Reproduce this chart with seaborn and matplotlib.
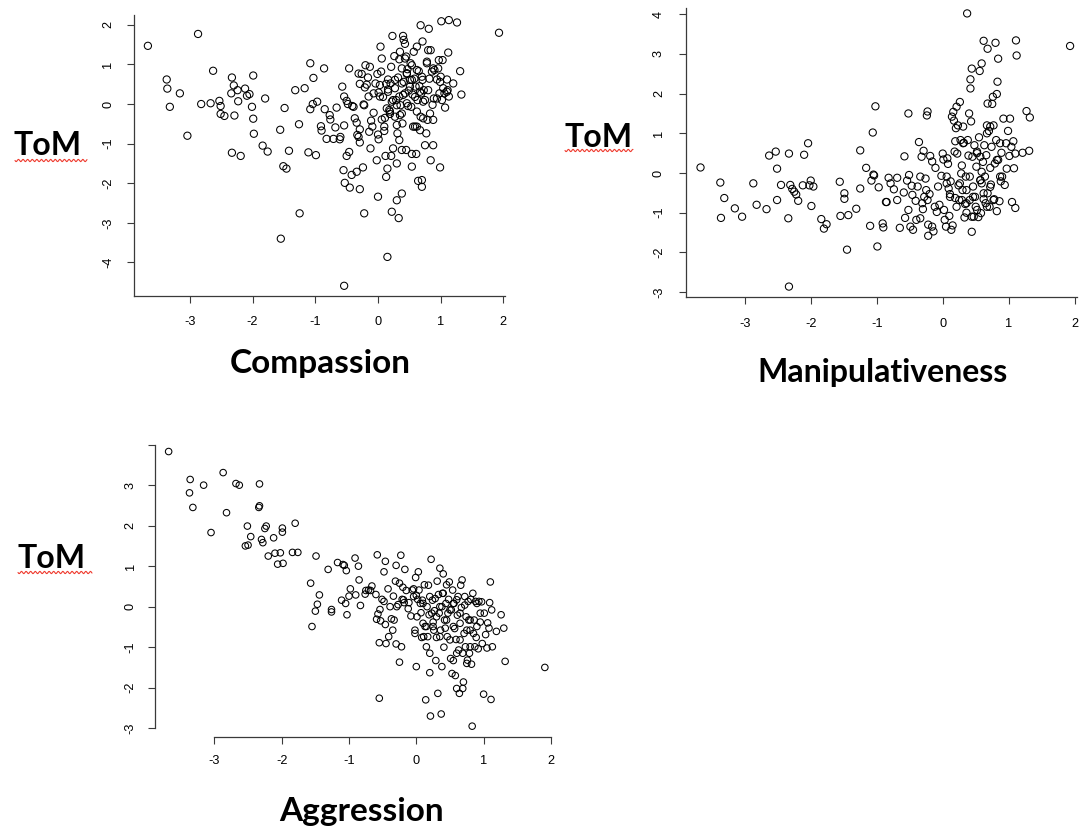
import numpy as np
import matplotlib
matplotlib.use("Agg")
import matplotlib.pyplot as plt
from matplotlib.lines import Line2D
import seaborn as sns

# ---------------------------------------------------------------- data
compassion_x = [
    -3.67, -3.37, -3.36, -3.32, -3.16, -3.04, -2.87, -2.82, -2.67, -2.63,
    -2.53, -2.51, -2.51, -2.45, -2.34, -2.33, -2.30, -2.29, -2.33, -2.24,
    -2.23, -2.19, -2.12, -2.09, -2.05, -2.01, -1.99, -1.99, -1.98, -1.84,
    -1.80, -1.76, -1.56, -1.55, -1.51, -1.49, -1.46, -1.42, -1.32, -1.26,
    -1.25, -1.17, -1.11, -1.08, -1.08, -1.04, -1.03, -0.99, -0.97, -0.86,
    -0.85, -0.91, -0.90, -0.82, -0.77, -0.76, -0.68, -0.66, -0.71, -0.61,
    -0.60, -0.57, -0.54, -0.55, -0.54, -0.53, -0.54, -0.50, -0.50, -0.46,
    -0.46, -0.48, -0.45, -0.41, -0.39, -0.42, -0.37, -0.34, -0.34, -0.33,
    -0.31, -0.31, -0.29, -0.29, -0.29, -0.29, -0.26, -0.24, -0.23, -0.22,
    -0.22, -0.21, -0.20, -0.18, -0.16, -0.15, -0.14, -0.13, -0.12, -0.11,
    -0.09, -0.07, -0.04, -0.02, -0.01, 0.00, 0.01, 0.00, 0.01, 0.03,
    0.04, 0.05, 0.06, 0.06, 0.10, 0.10, 0.11, 0.12, 0.13, 0.13,
    0.14, 0.15, 0.15, 0.16, 0.16, 0.18, 0.19, 0.20, 0.21, 0.21,
    0.22, 0.23, 0.24, 0.24, 0.26, 0.27, 0.27, 0.29, 0.30, 0.30,
    0.31, 0.32, 0.33, 0.34, 0.34, 0.34, 0.35, 0.36, 0.38, 0.38,
    0.38, 0.38, 0.39, 0.40, 0.41, 0.43, 0.41, 0.43, 0.45, 0.45,
    0.46, 0.47, 0.48, 0.49, 0.51, 0.52, 0.53, 0.54, 0.54, 0.55,
    0.56, 0.57, 0.58, 0.60, 0.61, 0.62, 0.62, 0.63, 0.64, 0.65,
    0.66, 0.67, 0.68, 0.68, 0.69, 0.70, 0.70, 0.71, 0.71, 0.73,
    0.75, 0.75, 0.77, 0.78, 0.79, 0.80, 0.81, 0.82, 0.83, 0.84,
    0.84, 0.86, 0.87, 0.88, 0.88, 0.89, 0.90, 0.94, 0.96, 0.97,
    0.98, 0.99, 1.00, 1.01, 1.02, 1.03, 1.04, 1.06, 1.07, 1.10,
    1.11, 1.12, 1.13, 1.13, 1.20, 1.26, 1.31, 1.33, 1.93,
    0.43, 0.54, 0.62, 0.46, 0.70, 0.27, 0.38, 0.51, 0.67, 0.59,
    0.80, 0.16, 0.08, 0.22, 0.46, 0.62, 0.35, 0.72, 0.94, 0.99,
    0.88, 0.78, 0.30, 0.03, -0.07, 1.10, 0.54, 0.40, 0.72, 0.30,
    0.59, 0.19,
]
compassion_tom = [
    1.47, 0.62, 0.39, -0.07, 0.27, -0.80, 1.77, 0.00, 0.02, 0.84,
    0.08, -0.05, -0.25, -0.30, 0.27, 0.67, 0.47, -0.29, -1.23, 0.35,
    0.07, -1.31, 0.39, 0.21, 0.25, -0.07, -0.37, 0.72, -0.75, -1.05,
    0.14, -1.20, -0.65, -3.40, -1.57, -0.10, -1.63, -1.18, 0.35, -0.51,
    -2.76, 0.40, -1.22, -0.13, 1.03, 0.00, 0.66, -1.29, 0.06, 0.90,
    -0.13, -0.56, -0.67, -0.88, -0.28, -0.39, -0.59, -0.09, -0.88, -0.89,
    -0.83, 0.44, -0.54, -1.67, 0.19, -1.99, -4.59, 0.08, -1.31, 0.90,
    -1.21, 0.00, -2.11, -0.05, -0.07, -1.79, -0.36, -1.71, -0.47, -0.78,
    -0.83, 0.77, -0.64, -2.15, -0.97, 0.51, 0.76, -1.60, -0.01, -2.76,
    -0.03, 0.42, 0.98, 0.49, 0.67, 0.19, -0.70, 0.94, -1.12, -0.42,
    -0.57, -0.22, 0.52, -1.42, 0.76, -0.77, -0.89, -2.34, 0.29, 0.19,
    1.45, 0.82, 1.15, -0.39, -0.57, -0.68, -0.35, -1.31, 0.51, -1.84,
    -0.11, -1.63, -3.86, 0.62, 0.37, -0.15, -0.25, 0.52, 0.94, -1.31,
    -2.72, 1.72, 0.10, -1.12, 1.21, -0.32, 0.40, 0.10, -1.50, -2.43,
    -0.74, 0.67, -2.88, 0.19, -0.91, 1.13, 1.32, -0.03, -2.26, 0.90,
    -0.24, -1.16, -0.49, 1.72, 1.62, 1.52, 0.56, 0.27, 1.20, -1.16,
    0.76, 0.88, -0.05, 0.34, 0.61, 1.03, -0.07, -1.58, -1.26, 0.24,
    -0.57, 1.32, 0.64, 0.44, -1.26, 1.45, -0.57, 0.10, -1.94, 0.83,
    0.45, -0.66, 1.99, -0.32, 0.27, -1.92, -2.09, 1.58, 0.61, 0.35,
    0.10, -1.04, -0.74, 1.03, -0.40, 1.36, 1.90, 0.64, -0.24, -1.42,
    1.36, 0.82, -0.02, -0.40, -1.04, 0.14, 0.86, 0.62, 0.90, 1.11,
    0.27, -1.60, 0.69, 2.09, 0.10, 1.11, 0.40, 0.27, -0.09, 0.62,
    0.35, 1.30, 2.12, 0.19, 0.52, 2.06, 0.83, 0.24, 1.80,
    1.15, 0.98, 0.86, 0.78, 0.69, 0.61, 0.52, 0.44, 0.31, 0.18,
    0.35, 0.31, 0.18, 0.06, 0.02, -0.19, -0.28, -0.36, 0.14, 0.56,
    0.90, 1.07, -0.03, 0.48, 0.27, 0.31, 0.61, 0.23, 0.06, -0.53,
    -0.57, -0.19,
]

manip_x = [
    -3.67, -3.37, -3.36, -3.31, -3.15, -3.04, -2.87, -2.82, -2.67, -2.63,
    -2.53, -2.51, -2.51, -2.45, -2.33, -2.34, -2.33, -2.31, -2.28, -2.25,
    -2.22, -2.19, -2.12, -2.10, -2.04, -2.02, -2.00, -1.99, -1.96, -1.84,
    -1.80, -1.76, -1.56, -1.55, -1.49, -1.49, -1.45, -1.43, -1.31, -1.25,
    -1.25, -1.16, -1.10, -1.08, -1.06, -1.05, -1.04, -1.02, -0.99, -0.97,
    -0.91, -0.90, -0.86, -0.85, -0.82, -0.79, -0.74, -0.69, -0.69, -0.65,
    -0.59, -0.58, -0.57, -0.54, -0.52, -0.52, -0.51, -0.49, -0.47, -0.46,
    -0.45, -0.41, -0.40, -0.38, -0.36, -0.34, -0.34, -0.32, -0.31, -0.30,
    -0.29, -0.28, -0.26, -0.25, -0.24, -0.23, -0.23, -0.22, -0.22, -0.20,
    -0.19, -0.16, -0.16, -0.14, -0.12, -0.11, -0.09, -0.07, -0.05, -0.02,
    0.00, 0.01, 0.02, 0.03, 0.05, 0.06, 0.07, 0.08, 0.09, 0.10,
    0.11, 0.12, 0.13, 0.14, 0.15, 0.16, 0.17, 0.18, 0.19, 0.19,
    0.20, 0.21, 0.22, 0.23, 0.24, 0.25, 0.26, 0.27, 0.28, 0.29,
    0.30, 0.31, 0.32, 0.33, 0.34, 0.35, 0.36, 0.37, 0.38, 0.39,
    0.40, 0.41, 0.42, 0.42, 0.43, 0.44, 0.44, 0.45, 0.46, 0.47,
    0.48, 0.49, 0.50, 0.51, 0.52, 0.54, 0.55, 0.56, 0.57, 0.58,
    0.59, 0.59, 0.61, 0.62, 0.62, 0.63, 0.64, 0.65, 0.66, 0.67,
    0.68, 0.68, 0.68, 0.70, 0.71, 0.72, 0.73, 0.74, 0.75, 0.76,
    0.77, 0.78, 0.79, 0.80, 0.81, 0.82, 0.82, 0.83, 0.84, 0.84,
    0.86, 0.87, 0.88, 0.89, 0.90, 0.92, 0.94, 0.96, 0.97, 0.99,
    1.01, 1.02, 1.04, 1.05, 1.07, 1.08, 1.10, 1.10, 1.11, 1.12,
    1.21, 1.27, 1.31, 1.32, 1.93,
    0.26, 0.36, 0.46, 0.57, 0.62, 0.36, 0.52, 0.67, 0.72, 0.29,
    0.41, 0.59, 0.77, 0.21, 0.44, 0.82, 0.87, 0.57, 0.06, 0.11,
    0.67, 0.72, 0.31, 0.52,
]
manip_tom = [
    0.14, -0.24, -1.13, -0.63, -0.89, -1.10, -0.26, -0.80, -0.91, 0.44,
    0.54, 0.11, -0.68, -0.30, 0.49, -1.14, -2.86, -0.30, -0.40, -0.47,
    -0.54, -0.70, -0.31, 0.46, 0.75, -0.31, -0.19, -0.83, -0.34, -1.16,
    -1.40, -1.29, -0.22, -1.08, -0.51, -0.65, -1.93, -1.06, -0.90, 0.57,
    -0.39, 0.13, -1.33, -0.19, 1.02, -0.04, -0.06, 1.68, -1.85, -0.36,
    -1.27, -1.37, -0.73, -0.73, -0.12, -0.26, -0.41, -0.68, -0.12, -1.38,
    -0.49, 0.42, -1.13, -0.19, -0.93, 1.50, -0.05, -1.35, -0.32, -0.55,
    -1.43, -0.70, -1.18, -0.34, 0.78, -0.09, -1.14, 0.41, -0.76, -0.91,
    0.56, -0.60, -0.14, -0.43, 1.45, 1.55, -0.68, -1.30, -1.58, -0.53,
    0.43, 0.29, -1.35, -1.47, -0.85, 0.13, -0.98, -0.34, -0.80, -0.07,
    0.49, 0.34, -0.93, -1.18, -1.35, -0.09, 0.37, 0.23, -0.39, -1.08,
    -0.53, -0.21, -1.43, 1.42, -1.32, 1.54, 1.32, 0.54, 0.80, -0.63,
    1.13, 1.67, 0.49, 1.20, -0.31, -0.68, 1.79, 0.83, -0.01, 0.19,
    -0.43, 1.17, 0.76, -1.12, -0.78, -0.09, -1.00, 4.02, 0.83, 0.44,
    1.50, -0.68, 2.13, 2.36, 1.30, -1.48, 2.63, 0.41, -0.34, -1.10,
    0.70, -0.60, -0.85, 0.16, 0.54, -1.11, 0.90, 2.57, -0.18, -1.01,
    2.76, -0.26, 0.28, 3.33, -0.66, 0.70, -0.09, -0.76, 0.45, 1.20,
    1.75, 3.13, -0.51, 1.06, -0.85, 0.13, -0.29, 0.66, 1.74, 1.92,
    1.20, -0.66, 0.24, 3.28, 0.83, 1.99, -0.96, 2.30, 2.88, 0.33,
    -0.71, 0.75, -0.21, 0.51, -0.09, 1.37, -0.30, 0.75, 0.11, 1.06,
    0.43, 1.37, 0.66, -0.73, 0.80, 0.12, -0.88, 0.49, 3.34, 2.96,
    0.51, 1.56, 0.56, 1.40, 3.20,
    -0.26, -0.43, -0.60, -0.18, -0.51, -0.76, -0.93, -0.85, -0.35, -0.68,
    -0.09, 0.03, -0.68, -0.85, -1.10, 0.33, -0.09, 0.41, -0.26, -0.60,
    1.00, 1.17, 0.75, 0.50,
]

aggr_x = [
    -3.68, -3.37, -3.36, -3.32, -3.16, -3.05, -2.87, -2.82, -2.68, -2.63,
    -2.54, -2.51, -2.50, -2.46, -2.34, -2.33, -2.33, -2.30, -2.28, -2.25,
    -2.23, -2.20, -2.12, -2.10, -2.06, -2.02, -1.99, -1.99, -1.98, -1.84,
    -1.80, -1.76, -1.57, -1.55, -1.50, -1.49, -1.47, -1.44, -1.31, -1.26,
    -1.26, -1.17, -1.11, -1.09, -1.07, -1.05, -1.04, -1.03, -1.00, -0.98,
    -0.91, -0.90, -0.86, -0.85, -0.83, -0.76, -0.75, -0.71, -0.68, -0.66,
    -0.60, -0.59, -0.58, -0.57, -0.55, -0.55, -0.54, -0.53, -0.51, -0.48,
    -0.48, -0.46, -0.46, -0.45, -0.42, -0.41, -0.39, -0.37, -0.35, -0.34,
    -0.33, -0.31, -0.30, -0.30, -0.29, -0.27, -0.25, -0.25, -0.23, -0.22,
    -0.21, -0.20, -0.18, -0.17, -0.15, -0.12, -0.11, -0.08, -0.06, -0.04,
    -0.02, -0.02, -0.01, 0.00, 0.00, 0.02, 0.03, 0.04, 0.06, 0.07,
    0.08, 0.09, 0.10, 0.11, 0.12, 0.13, 0.14, 0.15, 0.16, 0.17,
    0.18, 0.19, 0.20, 0.20, 0.21, 0.22, 0.23, 0.24, 0.25, 0.26,
    0.27, 0.28, 0.29, 0.30, 0.31, 0.32, 0.33, 0.34, 0.35, 0.36,
    0.37, 0.38, 0.38, 0.39, 0.40, 0.41, 0.42, 0.43, 0.44, 0.45,
    0.46, 0.47, 0.48, 0.49, 0.50, 0.51, 0.52, 0.53, 0.54, 0.55,
    0.56, 0.57, 0.58, 0.59, 0.60, 0.61, 0.62, 0.63, 0.64, 0.65,
    0.66, 0.67, 0.68, 0.69, 0.69, 0.70, 0.71, 0.72, 0.73, 0.74,
    0.75, 0.76, 0.77, 0.78, 0.79, 0.80, 0.81, 0.82, 0.83, 0.84,
    0.85, 0.86, 0.87, 0.88, 0.89, 0.90, 0.92, 0.93, 0.95, 0.97,
    0.98, 1.00, 1.01, 1.03, 1.05, 1.06, 1.08, 1.09, 1.10, 1.11,
    1.12, 1.13, 1.19, 1.26, 1.30, 1.32, 1.91,
    0.55, 0.60, 0.50, 0.65, 0.35, 0.30, 0.45, 0.72, 0.80, 0.75,
    0.20, 0.10, 0.25, 0.55, 0.40, -0.04, 0.01, 0.90, 0.95, 0.65,
    0.80, 0.35, 0.60, -0.19, 0.15,
]
aggr_tom = [
    3.83, 2.81, 3.14, 2.45, 3.00, 1.83, 3.31, 2.32, 3.04, 3.00,
    1.50, 1.99, 1.52, 1.73, 2.45, 2.49, 3.03, 1.66, 1.58, 1.93,
    1.99, 1.25, 1.70, 1.32, 1.05, 1.33, 1.94, 1.84, 1.07, 1.34,
    2.06, 1.34, 0.58, -0.49, -0.11, 1.25, 0.06, 0.29, 0.92, -0.07,
    -0.13, 1.09, 0.16, 1.04, 1.02, 0.08, 0.89, -0.20, 0.26, 0.44,
    1.20, 0.29, 1.00, 0.66, 0.03, 0.31, 0.40, 0.41, 0.40, 0.51,
    0.30, -0.31, 1.28, -0.18, -0.89, -2.26, -0.07, -0.35, 0.18, 0.86,
    0.13, 1.12, -0.44, -0.91, 0.44, -0.74, 0.00, -0.30, -0.58, 0.26,
    -0.33, 0.63, 1.02, -0.92, 0.00, 0.05, 0.58, -1.37, 1.27, -0.99,
    0.18, 0.48, 0.10, 0.92, 0.40, -0.05, 0.10, -0.23, 0.41, 0.44,
    -0.58, -0.66, 0.72, 0.28, -1.48, 0.18, 0.86, 0.41, 0.08, -0.15,
    -0.76, 0.16, -0.41, -0.74, 0.54, -0.49, -2.30, -0.99, 0.00, -0.74,
    0.53, -0.20, -1.15, -1.63, -2.70, 1.17, -0.16, 0.16, -0.38, -0.58,
    -0.10, 0.20, -1.33, -0.76, 0.63, -2.14, 0.30, -0.16, 0.95, -0.58,
    -2.65, -1.48, 0.00, 0.33, 0.81, -1.00, -0.33, -0.53, 0.08, 0.54,
    -0.74, -0.16, 0.18, 0.61, -0.82, -1.28, -0.08, -1.65, 0.41, -1.33,
    0.08, -0.54, -1.70, -0.81, -2.02, -0.21, 0.25, -1.07, -2.14, -0.41,
    0.53, -0.02, 0.66, -2.02, -1.15, -1.86, -0.66, 0.25, -0.99, -0.25,
    -1.40, -1.32, 0.13, -0.33, -1.15, -0.58, 0.18, -1.42, -2.95, 0.33,
    -0.66, -0.33, -0.99, 0.13, -0.76, -0.49, -1.04, 0.13, -0.38, 0.12,
    -0.91, -2.16, -0.16, -0.69, -1.02, -0.40, -0.53, 0.10, 0.61, -2.29,
    -0.08, -0.99, -0.61, -0.20, -0.53, -1.35, -1.50,
    0.08, 0.17, -0.08, -0.16, 0.00, -0.25, -0.33, 0.04, -0.33, -0.58,
    0.25, 0.08, -0.49, -0.49, 0.33, 0.25, -0.25, 0.08, -0.16, -0.82,
    -0.99, -0.74, -1.15, 0.17, -0.49,
]

x_ticks = [-3, -2, -1, 0, 1, 2]
x_tick_labels = ["-3", "-2", "-1", "0", "1", "2"]
comp_y_ticks = [-4, -3, -2, -1, 0, 1, 2]
manip_y_ticks = [-3, -2, -1, 0, 1, 2, 3, 4]
aggr_y_ticks = [-3, -2, -1, 0, 1, 2, 3, 4]
aggr_y_labels = ["-3", "-2", "-1", "0", "1", "2", "3", ""]

y_title = "ToM"
x_titles = ["Compassion", "Manipulativeness", "Aggression"]

# ---------------------------------------------------------------- figure
sns.set_theme(style="white")
plt.rcParams["font.family"] = ["Liberation Sans", "DejaVu Sans"]
plt.rcParams["axes.unicode_minus"] = False

W, H = 1080, 831
fig = plt.figure(figsize=(W / 100, H / 100), dpi=100)
fig.patch.set_facecolor("white")

AXIS_COLOR = "#3a3a3a"
TITLE_FONT = ["Lato", "DejaVu Sans"]


def px_axes(left, top, right, bottom):
    """Axes placed by its pixel box (origin at the top-left corner)."""
    return fig.add_axes([left / W, 1 - bottom / H, (right - left) / W, (bottom - top) / H])


def scatter_panel(ax, xs, ys, yticks, ylabels, xlim, ylim, size, pad):
    sns.scatterplot(x=xs, y=ys, ax=ax, marker="o", s=size, color="black",
                    facecolor="none", edgecolor="black", linewidth=0.75,
                    legend=False)
    ax.set_xlim(*xlim)
    ax.set_ylim(*ylim)
    ax.set_xticks(x_ticks)
    ax.set_xticklabels(x_tick_labels)
    ax.set_yticks(yticks)
    ax.set_yticklabels(ylabels)
    ax.set_xlabel("")
    ax.set_ylabel("")
    ax.set_facecolor("none")
    for side in ("top", "right"):
        ax.spines[side].set_visible(False)
    for side in ("left", "bottom"):
        ax.spines[side].set_color(AXIS_COLOR)
        ax.spines[side].set_linewidth(0.9)
    ax.tick_params(axis="both", which="major", direction="out", length=5.2,
                   width=0.8, color=AXIS_COLOR, labelsize=9.2,
                   labelcolor="black", pad=pad, bottom=True, left=True,
                   top=False, right=False)
    ax.tick_params(axis="y", labelrotation=90)
    for lab in ax.get_yticklabels():
        lab.set_va("center")
    ax.grid(False)


def squiggle(x0, x1, y):
    """Red wavy underline drawn in figure pixels."""
    xs = np.linspace(x0, x1, 300)
    ys = y + 1.1 * np.sin((xs - x0) * 2 * np.pi / 4.6)
    fig.add_artist(Line2D(xs / W, 1 - ys / H, transform=fig.transFigure,
                          color="#ef3b2f", lw=0.8))


def fig_text(x, y_base, s, size):
    fig.text(x / W, 1 - y_base / H, s, ha="center", va="baseline",
             fontsize=size, fontweight="bold", family=TITLE_FONT, color="black")


# Compassion panel
ax1 = px_axes(134.1, 9.4, 512.8, 296.1)
scatter_panel(ax1, compassion_x, compassion_tom, comp_y_ticks,
              [str(t) for t in comp_y_ticks], (-3.89, 2.15), (-4.85, 2.39), 27, 9)
ax1.spines["bottom"].set_bounds(-3.89, 2.03)
ax1.spines["left"].set_bounds(-4.85, 2.25)

# Manipulativeness panel
ax2 = px_axes(686.0, 1.9, 1084.6, 297.3)
scatter_panel(ax2, manip_x, manip_tom, manip_y_ticks,
              [str(t) for t in manip_y_ticks], (-3.89, 2.15), (-3.13, 4.31), 27, 10)
ax2.spines["bottom"].set_bounds(-3.89, 2.03)
ax2.spines["left"].set_bounds(-3.13, 4.15)

# Aggression panel (R-style detached axes)
ax3 = px_axes(154.5, 440.6, 561.0, 737.1)
scatter_panel(ax3, aggr_x, aggr_tom, aggr_y_ticks, aggr_y_labels,
              (-3.89, 2.15), (-3.22, 4.10), 22, 7.5)
ax3.spines["bottom"].set_bounds(-3, 2)
ax3.spines["left"].set_bounds(-3, 4)

# Axis titles
fig_text(47.5, 155.0, y_title, 23)
fig_text(599.0, 146.7, y_title, 23)
fig_text(51.7, 568.3, y_title, 23)
squiggle(15, 87, 160.5)
squiggle(565, 633, 150.5)
squiggle(18, 92, 572.5)

fig_text(320.0, 372.7, x_titles[0], 24)
fig_text(883.0, 381.7, x_titles[1], 23)
fig_text(361.5, 821.0, x_titles[2], 24)

fig.savefig("out.png", dpi=100, facecolor="white")
